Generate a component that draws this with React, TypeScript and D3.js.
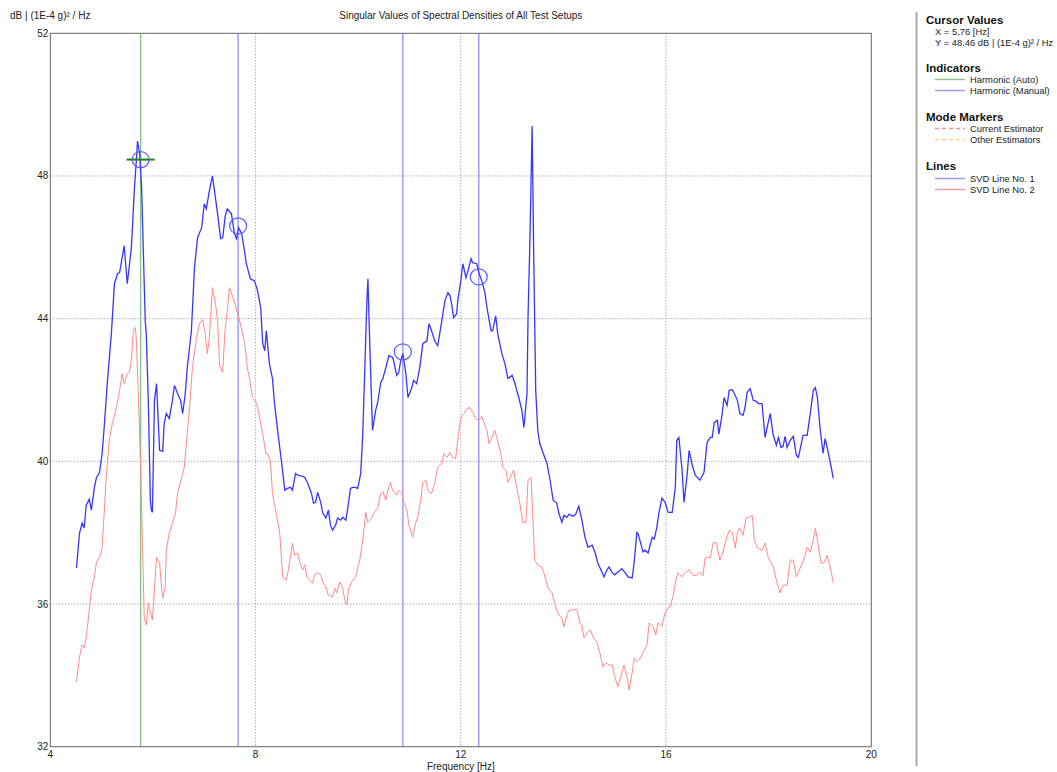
import React from "react";
import * as d3 from "d3";

const xTicks = [4, 8, 12, 16, 20];
const yTicks = [32, 36, 40, 44, 48, 52];
const xGrid = [8, 12, 16];
const yGrid = [36, 40, 44, 48];

const autoHarmonic = [5.76];
const manualHarmonics = [7.66, 10.87, 12.35];
const markerFreq = [5.76, 7.66, 10.87, 12.35];
const markerDb = [48.46, 46.6, 43.07, 45.17];
const cursorX = 5.76;
const cursorY = 48.46;

const svd1: [number, number][] = [
  [4.51,37.01],[4.57,37.99],[4.62,38.27],[4.66,38.13],[4.70,38.77],[4.76,38.94],[4.80,38.63],[4.86,39.27],[4.90,39.55],[4.96,39.69],
  [5.01,40.22],[5.05,40.95],[5.11,42.18],[5.19,43.58],[5.25,44.98],[5.31,45.26],[5.35,45.29],[5.44,46.04],[5.50,44.98],[5.58,45.99],
  [5.64,47.66],[5.68,48.50],[5.70,48.98],[5.74,48.64],[5.78,47.66],[5.85,43.94],[5.87,43.58],[5.91,41.71],[5.95,38.91],[5.97,38.63],
  [5.99,38.57],[6.03,41.71],[6.07,42.18],[6.13,40.31],[6.19,40.28],[6.22,41.06],[6.26,41.34],[6.32,41.20],[6.38,41.71],[6.42,42.13],
  [6.48,41.90],[6.54,41.71],[6.58,41.34],[6.63,41.90],[6.67,42.63],[6.75,43.66],[6.81,45.43],[6.87,46.27],[6.95,46.55],[7.00,47.22],
  [7.04,47.08],[7.10,47.58],[7.16,48.00],[7.20,47.58],[7.26,46.94],[7.32,46.24],[7.36,46.27],[7.41,46.88],[7.45,47.08],[7.53,46.94],
  [7.59,46.38],[7.63,46.24],[7.67,46.55],[7.73,46.38],[7.79,45.85],[7.82,45.54],[7.90,45.12],[7.98,45.06],[8.04,44.78],[8.10,44.31],
  [8.14,43.30],[8.18,43.10],[8.21,43.66],[8.27,42.74],[8.33,42.32],[8.37,41.62],[8.43,40.87],[8.51,39.94],[8.57,39.19],[8.62,39.24],
  [8.68,39.27],[8.72,39.19],[8.78,39.66],[8.82,39.61],[8.92,39.58],[8.96,39.55],[9.02,39.38],[9.09,39.10],[9.13,38.83],[9.17,38.85],
  [9.21,39.13],[9.27,38.85],[9.31,38.55],[9.37,38.41],[9.42,38.63],[9.46,38.21],[9.50,38.07],[9.56,38.21],[9.60,38.41],[9.66,38.35],
  [9.70,38.43],[9.76,38.35],[9.80,38.71],[9.85,39.24],[9.89,39.27],[9.95,39.27],[9.99,39.24],[10.05,39.66],[10.09,40.78],[10.13,42.63],
  [10.17,44.50],[10.19,45.12],[10.22,43.58],[10.26,41.71],[10.28,40.87],[10.34,41.43],[10.38,41.65],[10.44,42.21],[10.48,42.32],[10.54,42.63],
  [10.60,42.97],[10.67,42.91],[10.69,42.83],[10.75,42.41],[10.79,42.49],[10.83,42.83],[10.87,43.02],[10.93,42.46],[10.97,41.79],[11.04,42.04],
  [11.08,42.27],[11.14,42.18],[11.20,42.63],[11.26,43.30],[11.34,43.38],[11.38,43.86],[11.43,43.66],[11.49,43.38],[11.55,43.24],[11.63,43.94],
  [11.69,44.50],[11.75,44.73],[11.79,44.64],[11.82,44.42],[11.86,44.03],[11.92,44.14],[11.94,44.50],[12.00,45.06],[12.04,45.54],[12.10,45.15],
  [12.14,45.34],[12.20,45.68],[12.23,45.57],[12.31,45.54],[12.35,45.29],[12.41,45.06],[12.47,44.73],[12.51,44.31],[12.59,43.66],[12.62,43.66],
  [12.68,44.08],[12.72,43.58],[12.80,43.02],[12.86,42.74],[12.92,42.32],[13.00,42.41],[13.05,42.21],[13.09,41.99],[13.13,41.79],[13.19,41.43],
  [13.23,40.95],[13.29,41.90],[13.31,44.03],[13.35,46.38],[13.39,49.40],[13.42,45.90],[13.46,41.99],[13.50,40.87],[13.54,40.50],[13.60,40.25],
  [13.68,39.94],[13.74,39.47],[13.80,38.91],[13.87,38.83],[13.91,38.55],[13.97,38.29],[14.01,38.49],[14.07,38.43],[14.11,38.52],[14.19,38.46],
  [14.24,38.52],[14.30,38.74],[14.36,38.35],[14.42,37.87],[14.48,37.59],[14.56,37.65],[14.62,37.43],[14.67,37.15],[14.75,36.90],[14.79,36.76],
  [14.85,36.96],[14.89,37.04],[14.95,36.88],[15.00,36.82],[15.06,36.90],[15.14,36.99],[15.20,36.88],[15.26,36.76],[15.34,36.73],[15.38,37.18],
  [15.43,38.01],[15.45,37.99],[15.49,37.79],[15.55,37.46],[15.59,37.51],[15.65,37.43],[15.73,37.87],[15.77,37.82],[15.82,38.15],[15.86,38.55],
  [15.92,38.97],[15.98,38.85],[16.04,38.57],[16.12,38.57],[16.18,39.27],[16.21,40.59],[16.25,40.67],[16.31,39.80],[16.35,38.85],[16.41,39.61],
  [16.45,40.31],[16.51,39.89],[16.57,39.61],[16.66,39.47],[16.74,39.69],[16.80,40.53],[16.86,40.67],[16.90,40.67],[16.94,41.09],[17.00,41.15],
  [17.03,40.76],[17.09,41.29],[17.13,41.79],[17.19,41.57],[17.23,41.99],[17.29,42.01],[17.33,41.90],[17.39,41.71],[17.44,41.34],[17.50,41.29],
  [17.54,41.51],[17.58,41.93],[17.64,42.04],[17.70,41.71],[17.76,41.68],[17.80,41.62],[17.87,41.62],[17.93,40.67],[17.97,40.95],[18.03,41.34],
  [18.09,40.73],[18.15,40.45],[18.19,40.67],[18.24,40.39],[18.28,40.42],[18.32,40.70],[18.36,40.39],[18.42,40.59],[18.48,40.70],[18.54,40.17],
  [18.58,40.11],[18.67,40.73],[18.75,40.73],[18.81,41.34],[18.87,41.99],[18.91,42.07],[18.95,41.79],[19.00,40.95],[19.06,40.22],[19.10,40.64],
  [19.14,40.39],[19.20,39.97],[19.26,39.52],
];

const svd2: [number, number][] = [
  [4.51,33.82],[4.57,34.52],[4.62,34.85],[4.66,34.77],[4.70,35.08],[4.76,35.83],[4.80,36.39],[4.86,36.76],[4.90,37.17],[4.98,37.37],
  [5.01,37.59],[5.05,38.55],[5.09,39.55],[5.15,40.59],[5.21,41.06],[5.29,41.51],[5.35,41.99],[5.40,42.46],[5.44,42.18],[5.50,42.46],
  [5.54,42.49],[5.58,42.83],[5.62,43.66],[5.66,43.75],[5.68,43.30],[5.72,41.71],[5.76,39.83],[5.80,37.51],[5.83,35.64],[5.87,35.41],
  [5.91,36.03],[5.95,35.78],[5.99,35.55],[6.03,36.39],[6.07,37.31],[6.13,37.15],[6.17,36.45],[6.19,36.17],[6.24,36.48],[6.26,37.51],
  [6.32,37.99],[6.38,38.27],[6.44,38.55],[6.48,39.10],[6.56,39.55],[6.61,39.83],[6.67,40.78],[6.73,41.79],[6.77,42.63],[6.85,43.47],
  [6.91,43.86],[6.97,43.97],[7.02,43.58],[7.06,43.02],[7.10,43.47],[7.16,44.87],[7.22,44.42],[7.26,43.94],[7.30,42.69],[7.36,42.49],
  [7.40,43.58],[7.45,44.22],[7.49,44.87],[7.55,44.64],[7.61,44.36],[7.69,43.94],[7.79,43.30],[7.84,42.63],[7.88,42.35],[7.94,41.79],
  [8.02,41.65],[8.08,41.23],[8.14,40.78],[8.20,40.22],[8.23,40.22],[8.29,40.03],[8.33,39.10],[8.41,38.49],[8.47,38.01],[8.53,36.76],
  [8.60,36.67],[8.64,36.96],[8.72,37.71],[8.76,37.37],[8.82,37.43],[8.86,37.18],[8.92,36.96],[8.96,37.10],[9.00,36.76],[9.05,36.67],
  [9.11,36.59],[9.15,36.82],[9.21,36.88],[9.27,36.82],[9.31,36.62],[9.37,36.48],[9.42,36.25],[9.50,36.20],[9.54,36.45],[9.58,36.31],
  [9.64,36.62],[9.70,36.45],[9.74,36.11],[9.78,35.97],[9.81,36.39],[9.87,36.62],[9.95,36.76],[10.03,37.23],[10.09,37.79],[10.15,38.57],
  [10.19,38.29],[10.26,38.41],[10.32,38.57],[10.38,38.69],[10.44,39.10],[10.48,39.16],[10.54,38.91],[10.58,39.19],[10.63,39.41],[10.67,39.19],
  [10.75,39.05],[10.79,39.19],[10.85,39.10],[10.89,38.85],[10.95,38.63],[10.99,38.21],[11.06,37.87],[11.12,38.27],[11.16,38.43],[11.22,38.91],
  [11.26,39.41],[11.32,39.47],[11.36,39.19],[11.43,39.10],[11.49,39.38],[11.55,39.83],[11.63,39.94],[11.67,40.22],[11.73,40.11],[11.79,40.25],
  [11.84,40.11],[11.90,40.08],[11.94,40.59],[12.00,41.23],[12.06,41.34],[12.12,41.48],[12.18,41.51],[12.23,41.37],[12.29,41.20],[12.35,41.15],
  [12.41,41.26],[12.45,41.09],[12.51,40.87],[12.55,40.50],[12.60,40.64],[12.66,40.87],[12.70,40.67],[12.78,40.22],[12.82,39.83],[12.88,39.75],
  [12.92,39.41],[13.00,39.66],[13.03,39.75],[13.09,39.27],[13.15,38.83],[13.21,38.29],[13.27,38.29],[13.31,39.47],[13.37,39.55],[13.40,38.55],
  [13.44,37.23],[13.50,37.09],[13.58,37.04],[13.64,36.76],[13.70,36.45],[13.78,36.31],[13.81,36.11],[13.87,35.83],[13.91,35.69],[13.97,35.61],
  [14.01,35.36],[14.07,35.69],[14.11,35.83],[14.19,35.83],[14.26,35.86],[14.32,35.47],[14.36,35.41],[14.40,35.05],[14.46,35.19],[14.52,35.27],
  [14.58,35.08],[14.65,34.94],[14.71,34.63],[14.77,34.24],[14.83,34.35],[14.89,34.29],[14.95,34.29],[15.00,33.96],[15.06,33.68],[15.12,33.96],
  [15.18,34.29],[15.24,33.96],[15.28,33.59],[15.34,34.07],[15.38,34.49],[15.43,34.38],[15.49,34.46],[15.55,34.63],[15.63,34.85],[15.67,35.47],
  [15.75,35.36],[15.80,35.13],[15.84,35.47],[15.92,35.38],[15.98,35.75],[16.04,35.89],[16.08,35.92],[16.14,36.25],[16.18,36.59],[16.23,36.88],
  [16.31,36.76],[16.37,36.88],[16.45,36.96],[16.53,36.79],[16.60,36.82],[16.66,36.90],[16.72,36.79],[16.76,37.29],[16.80,37.31],[16.86,37.29],
  [16.92,37.73],[16.98,37.71],[17.05,37.23],[17.11,37.46],[17.17,37.79],[17.23,38.07],[17.29,38.01],[17.35,37.57],[17.39,38.01],[17.44,38.13],
  [17.50,37.93],[17.56,38.41],[17.62,38.43],[17.68,38.49],[17.72,37.79],[17.78,37.57],[17.87,37.51],[17.93,37.71],[17.99,37.31],[18.09,37.04],
  [18.15,36.67],[18.22,36.31],[18.28,36.53],[18.36,36.53],[18.42,37.23],[18.48,37.23],[18.54,36.76],[18.60,36.96],[18.67,37.18],[18.71,37.37],
  [18.75,37.59],[18.81,37.46],[18.87,37.79],[18.91,38.13],[18.95,37.79],[19.02,37.15],[19.08,37.15],[19.14,37.37],[19.20,37.04],[19.26,36.59],
];

const FONT = "'Liberation Sans', Arial, sans-serif";
const BLUE = "#3636ff";
const RED = "#ff8a8a";
const IND_BLUE = "#9e9eff";
const IND_GREEN = "#86c486";

export default function App() {
  const x = d3.scaleLinear().domain([4, 20]).range([50.3, 871.3]);
  const y = d3.scaleLinear().domain([32, 52]).range([746.7, 33.3]);
  const line = d3.line<[number, number]>().x((d) => x(d[0])).y((d) => y(d[1]));
  const [x0, x1] = x.range();
  const [y0, y1] = [y(52), y(32)];

  const legendX = 926;
  return (
    <svg width={1057} height={772} style={{ position: "absolute", left: 0, top: 0, background: "#fff" }} fontFamily={FONT}>
      <rect x={0} y={0} width={1057} height={772} fill="#fff" />
      <text x={10} y={19} fontSize={10} fill="#222">dB | (1E-4 g)² / Hz</text>
      <text x={(x0 + x1) / 2} y={19} fontSize={10} fill="#222" textAnchor="middle">
        Singular Values of Spectral Densities of All Test Setups
      </text>

      {xGrid.map((v) => (
        <line key={"gx" + v} x1={x(v)} x2={x(v)} y1={y0} y2={y1} stroke="#8a8a8a" strokeWidth={1} strokeDasharray="1,2" />
      ))}
      {yGrid.map((v) => (
        <line key={"gy" + v} x1={x0} x2={x1} y1={y(v)} y2={y(v)} stroke="#8a8a8a" strokeWidth={1} strokeDasharray="1,2" />
      ))}

      {autoHarmonic.map((f) => (
        <line key={"ah" + f} x1={x(f)} x2={x(f)} y1={y0} y2={y1} stroke={IND_GREEN} strokeWidth={1.4} />
      ))}
      {manualHarmonics.map((f) => (
        <line key={"mh" + f} x1={x(f)} x2={x(f)} y1={y0} y2={y1} stroke={IND_BLUE} strokeWidth={1.5} />
      ))}

      <path d={line(svd2) || ""} fill="none" stroke={RED} strokeWidth={1} />
      <path d={line(svd1) || ""} fill="none" stroke={BLUE} strokeWidth={1.3} />

      {markerFreq.map((f, i) => (
        <ellipse key={"mk" + i} cx={x(f)} cy={y(markerDb[i])} rx={8.5} ry={8} fill="none" stroke="#5a5aff" strokeWidth={1.2} />
      ))}
      <line x1={x(cursorX) - 14} x2={x(cursorX) + 14} y1={y(cursorY)} y2={y(cursorY)} stroke="#1f7f1f" strokeWidth={2} />

      <rect x={x0} y={y0} width={x1 - x0} height={y1 - y0} fill="none" stroke="#666" strokeWidth={1} />

      {yTicks.map((v) => (
        <text key={"ty" + v} x={x0 - 2} y={y(v) + 3.5} fontSize={10} textAnchor="end" fill="#222">{v}</text>
      ))}
      {xTicks.map((v) => (
        <text key={"tx" + v} x={x(v)} y={y1 + 11} fontSize={10} textAnchor="middle" fill="#222">{v}</text>
      ))}
      <text x={(x0 + x1) / 2} y={770} fontSize={10} textAnchor="middle" fill="#222">Frequency [Hz]</text>

      <line x1={916.5} x2={916.5} y1={12} y2={766} stroke="#aaa" strokeWidth={2} />
      <text x={legendX} y={24} fontSize={11.5} fontWeight="bold" fill="#111">Cursor Values</text>
      <text x={935} y={35} fontSize={9.4} fill="#222">X = {cursorX.toFixed(2)} [Hz]</text>
      <text x={935} y={46} fontSize={9.4} fill="#222">Y = {cursorY.toFixed(2)} dB | (1E-4 g)² / Hz</text>

      <text x={legendX} y={72} fontSize={11.5} fontWeight="bold" fill="#111">Indicators</text>
      <line x1={935} x2={965} y1={79.5} y2={79.5} stroke={IND_GREEN} strokeWidth={1.4} />
      <text x={970} y={83} fontSize={9.4} fill="#222">Harmonic (Auto)</text>
      <line x1={935} x2={965} y1={90.5} y2={90.5} stroke={IND_BLUE} strokeWidth={1.5} />
      <text x={970} y={94} fontSize={9.4} fill="#222">Harmonic (Manual)</text>

      <text x={legendX} y={121} fontSize={11.5} fontWeight="bold" fill="#111">Mode Markers</text>
      <line x1={935} x2={965} y1={128.5} y2={128.5} stroke="#ff9090" strokeWidth={1.3} strokeDasharray="4,3" />
      <text x={970} y={132} fontSize={9.4} fill="#222">Current Estimator</text>
      <line x1={935} x2={965} y1={139.5} y2={139.5} stroke="#ffd090" strokeWidth={1.3} strokeDasharray="4,3" />
      <text x={970} y={143} fontSize={9.4} fill="#222">Other Estimators</text>

      <text x={legendX} y={170} fontSize={11.5} fontWeight="bold" fill="#111">Lines</text>
      <line x1={935} x2={965} y1={178.5} y2={178.5} stroke="#9a9aff" strokeWidth={1.5} />
      <text x={970} y={182} fontSize={9.4} fill="#222">SVD Line No. 1</text>
      <line x1={935} x2={965} y1={189.5} y2={189.5} stroke="#ff9a9a" strokeWidth={1.5} />
      <text x={970} y={193} fontSize={9.4} fill="#222">SVD Line No. 2</text>
    </svg>
  );
}
